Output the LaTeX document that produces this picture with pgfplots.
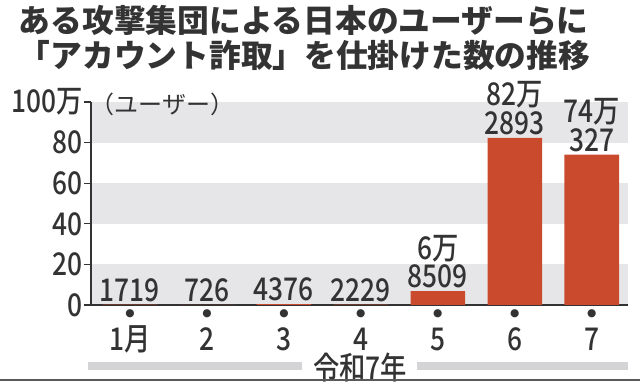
\documentclass[border=0pt]{standalone}
\usepackage{fontspec}
\setmainfont{Noto Sans CJK JP}
\newfontfamily\numfont[FakeStretch=0.84]{Noto Sans CJK JP Medium}
\newfontfamily\dejavu{DejaVu Sans}
\usepackage{pgfplots}
\pgfplotsset{compat=1.18}
\definecolor{txt}{HTML}{333333}
\definecolor{barc}{HTML}{CA4A2E}
\definecolor{band}{HTML}{E6E6E8}
\definecolor{lgray}{HTML}{D4D4D6}
\newcommand{\xl}[1]{{\dejavu\fontsize{8}{8}\selectfont ●}\\[1.5pt]#1}
\begin{document}
\begin{tikzpicture}
\node[anchor=west, inner sep=0pt, text=txt, font=\fontsize{23.8}{24}\selectfont\bfseries] at (14pt,271.5pt) {ある攻撃集団による日本のユーザーらに};
\node[anchor=west, inner sep=0pt, text=txt, font=\fontsize{23.8}{24}\selectfont\bfseries] at (14pt,245.25pt) {「アカウント詐取」を仕掛けた数の推移};
\begin{axis}[
  set layers,
  at={(68.25pt,57.75pt)}, anchor=south west,
  scale only axis, width=402.75pt, height=152.25pt,
  xmin=-0.506, xmax=6.47, ymin=0, ymax=100,
  axis lines*=left,
  axis line style={txt, line width=0.8pt},
  ytick={0,20,40,60,80,100},
  yticklabels={0,20,40,60,80,100万},
  ytick pos=left, tick align=outside, major tick length=5pt,
  ytick style={txt, line width=0.8pt},
  xtick={0,1,2,3,4,5,6},
  xticklabels={\xl{1月},\xl{2},\xl{3},\xl{4},\xl{5},\xl{6},\xl{7}},
  xtick style={draw=none},
  xticklabel style={align=center, anchor=north, inner sep=0pt, yshift=1.5pt},
  ticklabel style={font=\numfont\fontsize{23.5}{23.5}\selectfont, text=txt},
  yticklabel style={inner sep=1pt},
  /pgf/number format/assume math mode=true,
  clip=false,
  ybar, bar width=0.71, bar shift=0pt,
  nodes near coords={\pgfplotspointmeta},
  point meta=explicit symbolic,
  every node near coord/.append style={font=\numfont\fontsize{23.5}{21.5}\selectfont, text=txt, align=center, anchor=south, inner sep=0pt, yshift=2pt},
]
\begin{pgfonlayer}{axis background}
\fill[band] (axis cs:-0.506,0) rectangle (axis cs:6.47,20);
\fill[band] (axis cs:-0.506,40) rectangle (axis cs:6.47,60);
\fill[band] (axis cs:-0.506,80) rectangle (axis cs:6.47,100);
\end{pgfonlayer}
\addplot[fill=barc, draw=none] coordinates {
(0,0.1719) [1719]
(1,0.0726) [726]
(2,0.4376) [4376]
(3,0.2229) [2229]
(4,6.8509) [{6万\\8509}]
(5,82.2893) [{82万\\2893}]
(6,74.0327) [{74万\\327}]
};
\end{axis}
\node[anchor=west, inner sep=0pt, text=txt, font=\fontsize{18}{18}\selectfont] at (68pt,208.5pt) {（ユーザー）};
\fill[lgray] (66pt,9pt) rectangle (226.5pt,15pt);
\fill[lgray] (312.75pt,9pt) rectangle (471pt,15pt);
\node[inner sep=0pt, text=txt, font=\numfont\fontsize{23.5}{23.5}\selectfont] at (270pt,10.5pt) {令和7年};
\draw[black!65, line width=0.8pt] (0,1.5pt) -- (480pt,1.5pt);
\pgfresetboundingbox
\path[use as bounding box] (0,0) rectangle (480pt,286.5pt);
\end{tikzpicture}
\end{document}
